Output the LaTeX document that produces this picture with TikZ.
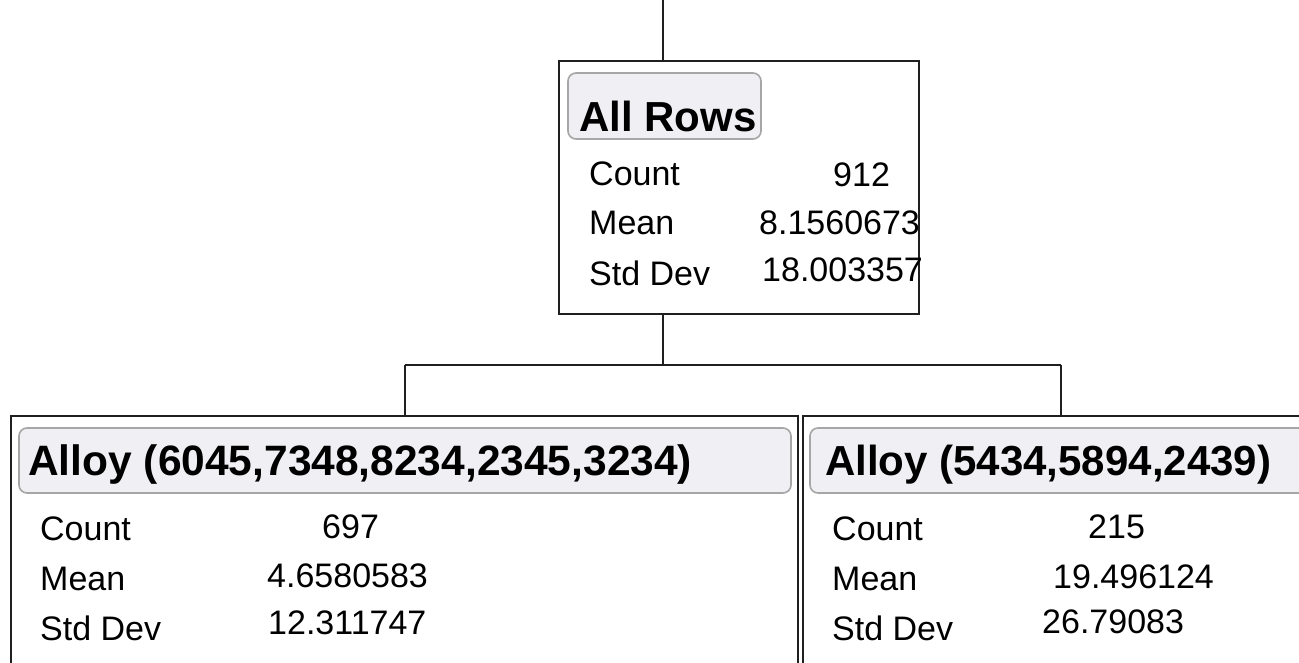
\documentclass[tikz,border=0pt]{standalone}
\usepackage{fontspec}
\setmainfont{Liberation Sans}
\begin{document}
\begin{tikzpicture}[x=1pt,y=-1pt,
  box/.style={draw=black!88,line width=2pt,fill=white,inner sep=0pt},
  pill/.style={draw=black!35,line width=1.6pt,fill=pillgrey,rounded corners=8pt,inner sep=0pt},
  wire/.style={draw=black!88,line width=2pt},
  head/.style={anchor=base west,inner sep=0pt,font=\fontsize{42}{50}\selectfont\bfseries},
  stat/.style={anchor=base west,inner sep=0pt,font=\fontsize{34}{40}\selectfont}]
\definecolor{pillgrey}{HTML}{EFEFF4}
\useasboundingbox (0,0) rectangle (1299,663);
\clip (0,0) rectangle (1299,663);
\fill[white] (0,0) rectangle (1299,663);

% tree nodes
\node[box,minimum width=360pt,minimum height=253pt] (root) at (739,187.5) {};
\node[box,minimum width=787pt,minimum height=280pt] (left) at (404.5,556) {};
\node[box,minimum width=516pt,minimum height=280pt] (right) at (1061,556) {};

% connectors
\coordinate (in) at (663,0);
\coordinate (split) at (663,365);
\draw[wire] (in) -- (in |- root.north);
\draw[wire] (in |- root.south) -- (split);
\draw[wire] (split -| left.north) -- (split -| right.north);
\draw[wire] (split -| left.north) -- (left.north);
\draw[wire] (split -| right.north) -- (right.north);

% header bars
\node[pill,minimum width=193pt,minimum height=66pt] (rootbar) at (664.5,106) {};
\node[pill,minimum width=772pt,minimum height=65pt] (leftbar) at (405,460.5) {};
\node[pill,minimum width=520pt,minimum height=65pt] (rightbar) at (1070,460.5) {};

% root statistics
\node[head] (rh) at (579,132) {All Rows};
\node[stat] (rc) at (589,186) {Count};
\node[stat] (rcv) at (833,187) {912};
\node[stat] (rm) at (589,235) {Mean};
\node[stat] (rmv) at (759,235) {8.1560673};
\node[stat] (rs) at (589,285) {Std Dev};
\node[stat] (rsv) at (762,282) {18.003357};

% left split statistics
\node[head,font=\fontsize{42.5}{50}\selectfont\bfseries] (lh) at (28,475) {Alloy (6045,7348,8234,2345,3234)};
\node[stat] (lc) at (40,540) {Count};
\node[stat] (lcv) at (322,538) {697};
\node[stat] (lm) at (40,590) {Mean};
\node[stat] (lmv) at (267,587) {4.6580583};
\node[stat] (ls) at (40,640) {Std Dev};
\node[stat] (lsv) at (268,634) {12.311747};

% right split statistics
\node[head] (hh) at (825,475) {Alloy (5434,5894,2439)};
\node[stat] (hc) at (832,540) {Count};
\node[stat] (hcv) at (1088,538) {215};
\node[stat] (hm) at (832,590) {Mean};
\node[stat] (hmv) at (1053,588) {19.496124};
\node[stat] (hs) at (832,640) {Std Dev};
\node[stat] (hsv) at (1042,633) {26.79083};
\end{tikzpicture}
\end{document}
